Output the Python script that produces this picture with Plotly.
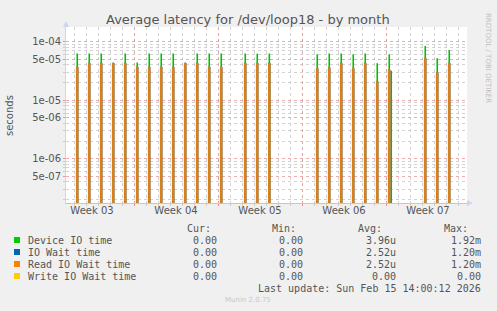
import pandas as pd
import plotly.graph_objects as go

# ---------------- data ----------------
spike_time = [
    "2026-01-14 06:30", "2026-01-15 06:30", "2026-01-16 06:30", "2026-01-17 06:30",
    "2026-01-18 06:30", "2026-01-19 06:30", "2026-01-20 06:30", "2026-01-21 06:30",
    "2026-01-22 06:30", "2026-01-23 06:30", "2026-01-24 06:30", "2026-01-25 06:30",
    "2026-01-26 06:30", "2026-01-28 06:30", "2026-01-29 06:30", "2026-01-30 06:40",
    "2026-02-03 06:30", "2026-02-04 06:30", "2026-02-05 06:30", "2026-02-06 06:30",
    "2026-02-07 06:30", "2026-02-08 06:30", "2026-02-09 06:30", "2026-02-09 10:30",
    "2026-02-12 06:30", "2026-02-13 06:30", "2026-02-14 06:30",
]
device_io = [
    6.3e-5, 6.3e-5, 6.3e-5, 4.2e-5, 6.3e-5, 4.4e-5, 6.3e-5, 6.3e-5,
    6.3e-5, 4.2e-5, 6.3e-5, 6.3e-5, 6.3e-5, 6.3e-5, 6.2e-5, 6.3e-5,
    6.1e-5, 6.3e-5, 6.3e-5, 6.1e-5, 6.3e-5, 4.3e-5, 6.1e-5, 3.2e-5,
    8.4e-5, 5.2e-5, 7.2e-5,
]
read_wait = [
    3.7e-5, 4.3e-5, 4.3e-5, 4.3e-5, 4.3e-5, 3.7e-5, 3.7e-5, 3.7e-5,
    3.7e-5, 4.3e-5, 4.3e-5, 3.7e-5, 3.7e-5, 4.3e-5, 4.3e-5, 4.3e-5,
    3.5e-5, 3.6e-5, 4.3e-5, 3.5e-5, 4.3e-5, 2.1e-5, 3.3e-5, 0.0,
    5.2e-5, 2.95e-5, 4.3e-5,
]
io_wait = list(read_wait)           # identical to read wait (hidden below it)

legend_names = ["Device IO time", "IO Wait time", "Read IO Wait time", "Write IO Wait time"]
legend_colors = ["#00cc00", "#0066b3", "#ff8000", "#ffcc00"]
cur_vals = ["0.00", "0.00", "0.00", "0.00"]
min_vals = ["0.00", "0.00", "0.00", "0.00"]
avg_vals = ["3.96u", "2.52u", "2.52u", "0.00"]
max_vals = ["1.92m", "1.20m", "1.20m", "0.00"]

week_mondays = ["2026-01-19", "2026-01-26", "2026-02-02", "2026-02-09"]
week_label_pos = ["2026-01-15 12:00", "2026-01-22 12:00", "2026-01-29 12:00",
                  "2026-02-05 12:00", "2026-02-12 12:00"]
week_labels = ["Week 03", "Week 04", "Week 05", "Week 06", "Week 07"]

y_tickvals = [5e-7, 1e-6, 5e-6, 1e-5, 5e-5, 1e-4]
y_ticktext = ["5e-07", "1e-06", "5e-06", "1e-05", "5e-05", "1e-04"]

x_range = ["2026-01-13 08:00", "2026-02-15 18:00"]
y_range = [-6.757, -3.749]

# ---------------- geometry helpers ----------------
W, H = 497, 311
L, R, T, B = 66, 467, 27, 203


def px(x):
    return (x - L) / (R - L)


def py(y):
    return (B - y) / (B - T)


TINY = 1e-10
half = pd.Timedelta(hours=1.6)

gx, gy = [], []
for t, g in zip(spike_time, device_io):
    if g > 0:
        tt = pd.Timestamp(t)
        gx += [tt, tt, None]
        gy += [TINY, g, None]


def poly(vals):
    xs, ys = [], []
    for t, v in zip(spike_time, vals):
        if v > 0:
            tt = pd.Timestamp(t)
            xs += [tt - half, tt - half, tt + half, tt + half, tt - half, None]
            ys += [TINY, v, v, TINY, TINY, None]
    return xs, ys


bx, by = poly(io_wait)
ox, oy = poly(read_wait)

fig = go.Figure()
fig.add_trace(go.Scatter(x=gx, y=gy, mode="lines", line=dict(color="#00c000", width=1.6),
                         hoverinfo="skip", showlegend=False))
fig.add_trace(go.Scatter(x=bx, y=by, mode="lines", fill="toself", fillcolor="#0066b3",
                         line=dict(color="#0066b3", width=0.8), hoverinfo="skip", showlegend=False))
fig.add_trace(go.Scatter(x=ox, y=oy, mode="lines", fill="toself", fillcolor="#b0892e",
                         line=dict(color="#ff8000", width=0.8), hoverinfo="skip", showlegend=False))
# invisible trace to carry the week label axis
fig.add_trace(go.Scatter(x=x_range, y=[1e-5, 1e-5], xaxis="x2", mode="markers",
                         marker=dict(opacity=0), hoverinfo="skip", showlegend=False))

minor_y = [m * 10.0 ** e for e in range(-7, -3) for m in (2, 3, 4, 6, 7, 8, 9)]

RED = "rgba(235,150,150,0.8)"
GRAY = "rgba(200,200,200,0.8)"

fig.update_layout(
    width=W, height=H,
    margin=dict(l=L, r=W - R, t=T, b=H - B, pad=0),
    paper_bgcolor="#f0f0f0", plot_bgcolor="#ffffff",
    font=dict(family="DejaVu Sans", size=10, color="#555555"),
    showlegend=False,
    xaxis=dict(
        type="date", range=x_range, tickvals=week_mondays, showticklabels=False,
        showgrid=True, gridcolor=RED, griddash="dot", gridwidth=1,
        ticks="outside", ticklen=2, tickcolor="#e79090",
        showline=True, linecolor="#d9c98e", linewidth=1, zeroline=False,
        minor=dict(dtick=86400000, tick0="2026-01-12", showgrid=True,
                   gridcolor=GRAY, griddash="dot", gridwidth=1,
                   ticks="outside", ticklen=2, tickcolor="#cccccc"),
    ),
    xaxis2=dict(
        type="date", range=x_range, overlaying="x", anchor="y", side="bottom",
        tickvals=week_label_pos, ticktext=week_labels, showgrid=False, ticks="",
        showline=False, zeroline=False, tickfont=dict(size=10, color="#555555"),
    ),
    yaxis=dict(
        type="log", range=y_range, tickvals=y_tickvals, ticktext=y_ticktext,
        showgrid=True, gridcolor=RED, griddash="dot", gridwidth=1,
        ticks="outside", ticklen=2, tickcolor="#e79090",
        showline=True, linecolor="#ccd4f4", linewidth=1, zeroline=False,
        tickfont=dict(size=10, color="#555555"),
        minor=dict(tickvals=minor_y, showgrid=True, gridcolor=GRAY,
                   griddash="dot", gridwidth=1, ticks="outside", ticklen=2,
                   tickcolor="#cccccc"),
    ),
)

ann = []
ann.append(dict(text="Average latency for /dev/loop18 - by month", x=px(248), y=py(19),
                font=dict(size=13, color="#555555")))
ann.append(dict(text="seconds", x=px(10), y=py(116), textangle=-90,
                font=dict(size=10, color="#555555")))
ann.append(dict(text="RRDTOOL / TOBI OETIKER", x=px(488), y=py(58), textangle=90,
                font=dict(size=7, color="#c0c0c0")))

mono = "DejaVu Sans Mono"
hdr_y = 228
for label, xr in zip(["Cur:", "Min:", "Avg:", "Max:"], [213, 298, 384, 470]):
    ann.append(dict(text=label, x=px(xr), y=py(hdr_y), xanchor="right",
                    font=dict(family=mono, size=10, color="#555555")))
row_y = [240, 252, 264, 276]
shapes = []
for i in range(4):
    ann.append(dict(text=legend_names[i], x=px(26), y=py(row_y[i]), xanchor="left",
                    font=dict(family=mono, size=10, color="#555555")))
    for vals, xr in zip([cur_vals, min_vals, avg_vals, max_vals], [219, 305, 398, 483]):
        ann.append(dict(text=vals[i], x=px(xr), y=py(row_y[i]), xanchor="right",
                        font=dict(family=mono, size=10, color="#555555")))
    shapes.append(dict(type="rect", xref="paper", yref="paper",
                       x0=px(14), x1=px(20), y0=py(row_y[i] + 3), y1=py(row_y[i] - 3),
                       fillcolor=legend_colors[i], line=dict(width=0)))
ann.append(dict(text="Last update: Sun Feb 15 14:00:12 2026", x=px(483), y=py(288),
                xanchor="right", font=dict(family=mono, size=10, color="#555555")))
ann.append(dict(text="Munin 2.0.75", x=px(248), y=py(300),
                font=dict(size=7, color="#c8c8c8")))

for a in ann:
    a.setdefault("xref", "paper")
    a.setdefault("yref", "paper")
    a.setdefault("showarrow", False)
    a.setdefault("xanchor", "center")
    a.setdefault("yanchor", "middle")

# axis arrows
shapes.append(dict(type="path", xref="paper", yref="paper",
                   path=f"M {px(63)} {py(27)} L {px(69)} {py(27)} L {px(66)} {py(21)} Z",
                   fillcolor="#ccd4f4", line=dict(width=0)))
shapes.append(dict(type="path", xref="paper", yref="paper",
                   path=f"M {px(467)} {py(200)} L {px(467)} {py(206)} L {px(473)} {py(203)} Z",
                   fillcolor="#ccd4f4", line=dict(width=0)))

fig.update_layout(annotations=ann, shapes=shapes)
fig.write_html("out.html")
